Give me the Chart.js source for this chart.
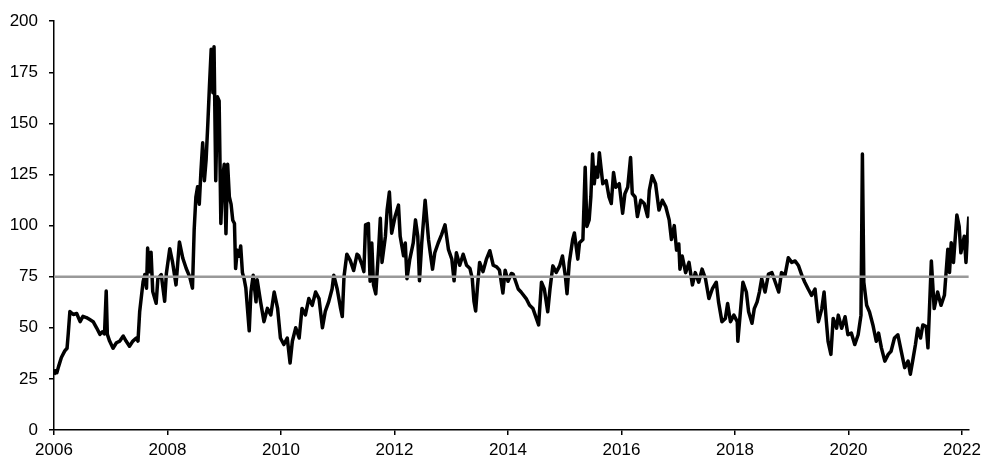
<!DOCTYPE html>
<html>
<head>
<meta charset="utf-8">
<script src="https://cdn.jsdelivr.net/npm/chart.js@4/dist/chart.umd.min.js"></script>
<style>
  body { margin: 0; background: #fff; }
</style>
</head>
<body>
<canvas id="chart" width="986" height="470"></canvas>
<script>
// series: decimal year, value
const years = [
  2006.00, 2006.02, 2006.05, 2006.08, 2006.13, 2006.19, 2006.23, 2006.25, 2006.28, 2006.34,
  2006.40, 2006.46, 2006.51, 2006.57, 2006.63, 2006.69, 2006.75, 2006.81, 2006.85, 2006.89,
  2006.92, 2006.94, 2006.98, 2007.04, 2007.10, 2007.16, 2007.22, 2007.27, 2007.33, 2007.39,
  2007.45, 2007.48, 2007.51, 2007.57, 2007.60, 2007.63, 2007.65, 2007.68, 2007.71, 2007.74,
  2007.80, 2007.83, 2007.89, 2007.95, 2007.98, 2008.04, 2008.09, 2008.15, 2008.21, 2008.27,
  2008.33, 2008.39, 2008.44, 2008.47, 2008.50, 2008.53, 2008.56, 2008.59, 2008.62, 2008.65,
  2008.68, 2008.71, 2008.74, 2008.77, 2008.80, 2008.82, 2008.85, 2008.88, 2008.91, 2008.94,
  2008.97, 2009.00, 2009.03, 2009.06, 2009.09, 2009.12, 2009.15, 2009.18, 2009.20, 2009.23,
  2009.26, 2009.29, 2009.32, 2009.35, 2009.38, 2009.44, 2009.47, 2009.51, 2009.56, 2009.58,
  2009.64, 2009.70, 2009.76, 2009.82, 2009.88, 2009.94, 2009.99, 2010.05, 2010.11, 2010.16,
  2010.20, 2010.26, 2010.32, 2010.37, 2010.43, 2010.49, 2010.55, 2010.61, 2010.67, 2010.73,
  2010.78, 2010.84, 2010.90, 2010.93, 2010.99, 2011.05, 2011.08, 2011.11, 2011.16, 2011.22,
  2011.28, 2011.34, 2011.37, 2011.43, 2011.46, 2011.49, 2011.54, 2011.57, 2011.60, 2011.63,
  2011.67, 2011.72, 2011.75, 2011.78, 2011.84, 2011.87, 2011.91, 2011.95, 2012.01, 2012.07,
  2012.10, 2012.16, 2012.19, 2012.22, 2012.27, 2012.33, 2012.37, 2012.41, 2012.44, 2012.48,
  2012.54, 2012.60, 2012.63, 2012.67, 2012.71, 2012.77, 2012.83, 2012.89, 2012.95, 2013.01,
  2013.05, 2013.09, 2013.15, 2013.21, 2013.27, 2013.33, 2013.37, 2013.40, 2013.43, 2013.46,
  2013.50, 2013.56, 2013.62, 2013.68, 2013.74, 2013.80, 2013.85, 2013.91, 2013.95, 2014.00,
  2014.06, 2014.09, 2014.18, 2014.23, 2014.32, 2014.38, 2014.44, 2014.50, 2014.54, 2014.59,
  2014.64, 2014.70, 2014.74, 2014.79, 2014.85, 2014.91, 2014.96, 2015.01, 2015.04, 2015.08,
  2015.14, 2015.17, 2015.23, 2015.26, 2015.32, 2015.36, 2015.39, 2015.43, 2015.46, 2015.49,
  2015.52, 2015.55, 2015.58, 2015.61, 2015.67, 2015.73, 2015.78, 2015.82, 2015.86, 2015.90,
  2015.96, 2016.02, 2016.06, 2016.11, 2016.16, 2016.19, 2016.24, 2016.28, 2016.34, 2016.40,
  2016.46, 2016.49, 2016.54, 2016.60, 2016.66, 2016.72, 2016.78, 2016.84, 2016.88, 2016.93,
  2016.97, 2017.01, 2017.03, 2017.07, 2017.13, 2017.19, 2017.25, 2017.30, 2017.36, 2017.42,
  2017.48, 2017.54, 2017.60, 2017.67, 2017.71, 2017.77, 2017.83, 2017.87, 2017.92, 2017.98,
  2018.04, 2018.05, 2018.09, 2018.14, 2018.20, 2018.24, 2018.30, 2018.34, 2018.39, 2018.43,
  2018.47, 2018.53, 2018.59, 2018.65, 2018.71, 2018.77, 2018.82, 2018.88, 2018.94, 2019.00,
  2019.06, 2019.12, 2019.18, 2019.23, 2019.29, 2019.35, 2019.41, 2019.47, 2019.53, 2019.57,
  2019.61, 2019.64, 2019.69, 2019.73, 2019.79, 2019.82, 2019.88, 2019.94, 2019.99, 2020.05,
  2020.11, 2020.17, 2020.22, 2020.245, 2020.27, 2020.32, 2020.37, 2020.43, 2020.49, 2020.53,
  2020.58, 2020.64, 2020.70, 2020.75, 2020.81, 2020.87, 2020.93, 2020.99, 2021.05, 2021.09,
  2021.14, 2021.18, 2021.22, 2021.27, 2021.31, 2021.37, 2021.40, 2021.46, 2021.51, 2021.57,
  2021.63, 2021.69, 2021.75, 2021.78, 2021.81, 2021.85, 2021.91, 2021.95, 2021.98, 2022.04,
  2022.07, 2022.12
];

const values = [
  27, 29, 28, 31, 35.5, 38.7, 40, 46.8, 58, 56.5,
  57, 53, 55.6, 55, 54, 53, 50, 46.8, 48, 47,
  68, 46.8, 43.5, 40, 42.7, 43.5, 46, 43.5, 41, 43.5,
  45, 43.5, 58, 72.6, 76, 69.4, 89, 77.4, 87, 67.7,
  62, 74, 76, 63, 76.6, 88.7, 82, 71, 92, 84,
  79, 75, 69.4, 98, 114, 119, 110.5, 127, 140.5, 122,
  132, 149.5, 168.7, 186.3, 165, 187.5, 122, 163, 161, 101,
  123, 130, 96, 130, 114, 110.5, 102.6, 101, 79, 88,
  85, 90, 77, 74, 69.5, 48.5, 67.5, 75.7, 62.7, 73.5,
  62.7, 53, 59.5, 56.3, 67.5, 59.5, 45, 41.8, 45, 32.8,
  43.4, 50, 45, 59.5, 56.3, 64.3, 61, 67.5, 64.3, 50,
  58, 62.7, 69, 75.7, 69, 59.5, 55.5, 75, 86, 83,
  78, 86, 85.2, 80.6, 77.5, 100.4, 101, 72.8, 91.5, 71,
  66.6, 88.4, 103.6, 82, 94.8, 107.6, 116.4, 96.3, 104.4, 110,
  94.8, 85.2, 91.5, 74, 83.6, 91.5, 102.8, 94.8, 73, 91.5,
  112.4, 93, 86.7, 78.7, 86.7, 91.5, 95.6, 100.4, 88.4, 83.6,
  73, 86.7, 80.6, 86, 80.6, 79, 74.2, 63, 58.2, 69.4,
  82, 77.5, 83.6, 87.7, 80.6, 79.8, 78.2, 67, 78.2, 72.8,
  76.6, 76.3, 69, 67.5, 64.3, 61, 59.4, 54.6, 51.4, 72.3,
  69, 57.8, 69, 80.3, 77.1, 80.3, 85.1, 75.5, 66.7, 82,
  93.2, 96.4, 83.6, 91.6, 93.2, 128.5, 99.6, 102.8, 114, 135,
  120.5, 128.5, 123.7, 135.7, 120.5, 122, 114, 110.8, 126, 118.8,
  120.5, 106, 115.6, 118.8, 133.3, 115.6, 114, 104.4, 112.4, 110.8,
  104.4, 117.2, 124.4, 120.5, 107.6, 112.4, 109.2, 102.8, 93.2, 100,
  88, 91, 78.7, 85.1, 77, 82, 71, 77, 72.3, 78.7,
  74, 64.3, 69, 72.3, 62.7, 53, 54.6, 61.9, 53, 56.2,
  53, 43.4, 56.2, 72.3, 67.5, 57.8, 52.2, 59.4, 62.7, 67.5,
  74, 67.5, 76.3, 77, 72.3, 67.5, 77, 75.5, 84.3, 82,
  82.7, 80.3, 75.5, 72.3, 69, 65.9, 69, 53, 59.4, 67.5,
  53, 43.4, 37, 54.6, 49.8, 56.2, 49.8, 55.4, 46.6, 47.4,
  41.8, 46.6, 56.2, 135, 72.3, 61, 57.8, 51.4, 43.4, 47.4,
  40.2, 33.7, 37, 38.5, 45, 46.6, 38.5, 30.5, 33.7, 27.3,
  35.3, 41.8, 49.8, 45, 51.4, 50.6, 40.2, 82.7, 59.4, 67.5,
  61, 65.9, 88.4, 77.1, 91.6, 82, 105.2, 99.6, 86.7, 94.8,
  82, 104.4
];

// flat reference level (grey line)
const refLevel = 75;

// axes
const xStart = 2006;
const xEnd = 2022.12;
const xTicks = [2006, 2008, 2010, 2012, 2014, 2016, 2018, 2020, 2022];
const yTicks = [0, 25, 50, 75, 100, 125, 150, 175, 200];

const series = years.map((yr, i) => ({ x: yr, y: values[i] }));
const refLine = [{ x: xStart, y: refLevel }, { x: xEnd, y: refLevel }];

const font = { family: "'Liberation Sans', Arial, sans-serif", size: 17 };

new Chart(document.getElementById("chart").getContext("2d"), {
  type: "scatter",
  data: {
    datasets: [
      {
        data: refLine,
        showLine: true,
        borderColor: "#999999",
        borderWidth: 2.5,
        pointRadius: 0,
        order: 0
      },
      {
        data: series,
        showLine: true,
        borderColor: "#000000",
        borderWidth: 3.5,
        borderJoinStyle: "round",
        pointRadius: 0,
        tension: 0,
        order: 1
      }
    ]
  },
  options: {
    responsive: false,
    animation: false,
    layout: { padding: { top: 15, right: 13, left: 0, bottom: 0 } },
    plugins: { legend: { display: false }, tooltip: { enabled: false } },
    scales: {
      x: {
        type: "linear",
        min: xStart,
        max: xEnd,
        afterBuildTicks: s => { s.ticks = xTicks.map(v => ({ value: v })); },
        afterFit: s => { s.height = 40; },
        ticks: { color: "#000", font: font, padding: 5, maxRotation: 0, callback: v => String(v) },
        grid: { drawOnChartArea: false, drawTicks: true, tickLength: 5, color: "#000", lineWidth: 1.5 },
        border: { color: "#000", width: 1.5 }
      },
      y: {
        min: 0,
        max: 200,
        afterBuildTicks: s => { s.ticks = yTicks.map(v => ({ value: v })); },
        afterFit: s => { s.width = 54; },
        ticks: { color: "#000", font: font, padding: 11, callback: v => String(v) },
        grid: { drawOnChartArea: false, drawTicks: true, tickLength: 5, color: "#000", lineWidth: 1.5 },
        border: { color: "#000", width: 1.5 }
      }
    }
  }
});
</script>
</body>
</html>
